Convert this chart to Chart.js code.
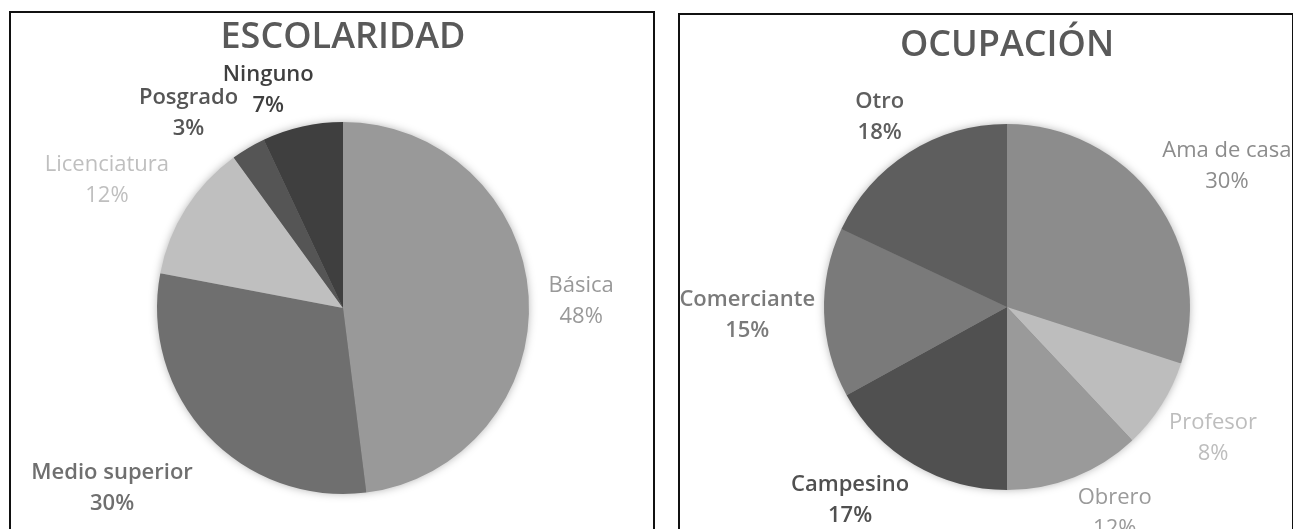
<!DOCTYPE html>
<html>
<head>
<meta charset="utf-8">
<script src="https://cdn.jsdelivr.net/npm/chart.js"></script>
<style>
  html, body { margin: 0; padding: 0; background: #fff; overflow: hidden; }
  body { width: 1293px; height: 529px; position: relative; }
  .box { position: absolute; border: 2px solid #111; background: #fff; }
  #box-esc { left: 9px; top: 11px; width: 642px; height: 540px; }
  #box-ocu { left: 678px; top: 13px; width: 612px; height: 540px; }
  canvas { display: block; }
</style>
</head>
<body>
<div class="box" id="box-esc"><canvas id="esc-chart" width="642" height="516"></canvas></div>
<div class="box" id="box-ocu"><canvas id="ocu-chart" width="612" height="514"></canvas></div>
<script>
// Escolaridad
const escLabels = ['Básica', 'Medio superior', 'Licenciatura', 'Posgrado', 'Ninguno'];
const escValues = [48, 30, 12, 3, 7];
const escColors = ['#999999', '#6f6f6f', '#bfbfbf', '#555555', '#3f3f3f'];

// Ocupación
const ocuLabels = ['Ama de casa', 'Profesor', 'Obrero', 'Campesino', 'Comerciante', 'Otro'];
const ocuValues = [30, 8, 12, 17, 15, 18];
const ocuColors = ['#8c8c8c', '#bdbdbd', '#9a9a9a', '#505050', '#7a7a7a', '#5e5e5e'];

const FONT = "'Open Sans', 'DejaVu Sans', sans-serif";

function lum(hex) {
    const n = parseInt(hex.slice(1), 16);
    return ((n >> 16) * 0.299 + ((n >> 8) & 255) * 0.587 + (n & 255) * 0.114) / 255;
}

function push(t) {
    // how far the label box is pushed out along each axis (-1..1)
    return Math.sign(t) * Math.min(1, Math.abs(t) * 3);
}

// labels outside the pie, Excel "best fit" style
const outLabels = {
    id: 'outLabels',
    beforeDatasetsDraw(chart) {
        const arc = chart.getDatasetMeta(0).data[0];
        if (!arc) return;
        const ctx = chart.ctx;
        ctx.save();
        ctx.shadowColor = 'rgba(0,0,0,0.35)';
        ctx.shadowBlur = 10;
        ctx.fillStyle = '#888';
        ctx.beginPath();
        ctx.arc(arc.x, arc.y, arc.outerRadius - 1, 0, Math.PI * 2);
        ctx.fill();
        ctx.restore();
    },
    afterDatasetsDraw(chart, args, opts) {
        const ctx = chart.ctx;
        const ds = chart.data.datasets[0];
        const total = ds.data.reduce((a, b) => a + b, 0);
        const lineH = 31;
        const gap = opts.gap;
        chart.getDatasetMeta(0).data.forEach(function(arc, i) {
            const p = arc.getProps(['x', 'y', 'startAngle', 'endAngle', 'outerRadius'], true);
            const mid = (p.startAngle + p.endAngle) / 2;
            const ux = Math.cos(mid), uy = Math.sin(mid);
            const color = ds.backgroundColor[i];
            const bold = lum(color) < 0.5;
            ctx.save();
            ctx.font = (bold ? '600 ' : '400 ') + '22px ' + FONT;
            const name = chart.data.labels[i];
            const pct = Math.round(ds.data[i] / total * 100) + '%';
            const w = Math.max(ctx.measureText(name).width, ctx.measureText(pct).width);
            const h = 56;
            const cx = p.x + (p.outerRadius + gap) * ux + push(ux) * w / 2;
            const cy = p.y + (p.outerRadius + gap) * uy + push(uy) * h / 2 + opts.dy;
            ctx.fillStyle = color;
            ctx.textAlign = 'center';
            ctx.textBaseline = 'middle';
            ctx.fillText(name, cx, cy - lineH / 2);
            ctx.fillText(pct, cx, cy + lineH / 2);
            ctx.restore();
        });
    }
};

function makePie(id, title, labels, values, colors, padding, titlePad, gap, dy) {
    return new Chart(document.getElementById(id).getContext('2d'), {
        type: 'pie',
        data: {
            labels: labels,
            datasets: [{
                data: values,
                backgroundColor: colors,
                borderWidth: 0
            }]
        },
        options: {
            responsive: false,
            animation: false,
            layout: { padding: padding },
            plugins: {
                legend: { display: false },
                tooltip: { enabled: false },
                title: {
                    display: true,
                    text: title,
                    color: '#595959',
                    font: { family: FONT, size: 36, weight: '600', lineHeight: 1.2 },
                    padding: titlePad
                },
                outLabels: { gap: gap, dy: dy }
            }
        },
        plugins: [outLabels]
    });
}

makePie('esc-chart', 'ESCOLARIDAD', escLabels, escValues, escColors,
    { left: 146, right: 124, top: 0, bottom: 35 }, { top: 3, bottom: 62.8 }, 20, 11);
makePie('ocu-chart', 'OCUPACIÓN', ocuLabels, ocuValues, ocuColors,
    { left: 144, right: 102, top: 0, bottom: 39 }, { top: 9, bottom: 56.8 }, 9, 0);
</script>
</body>
</html>
